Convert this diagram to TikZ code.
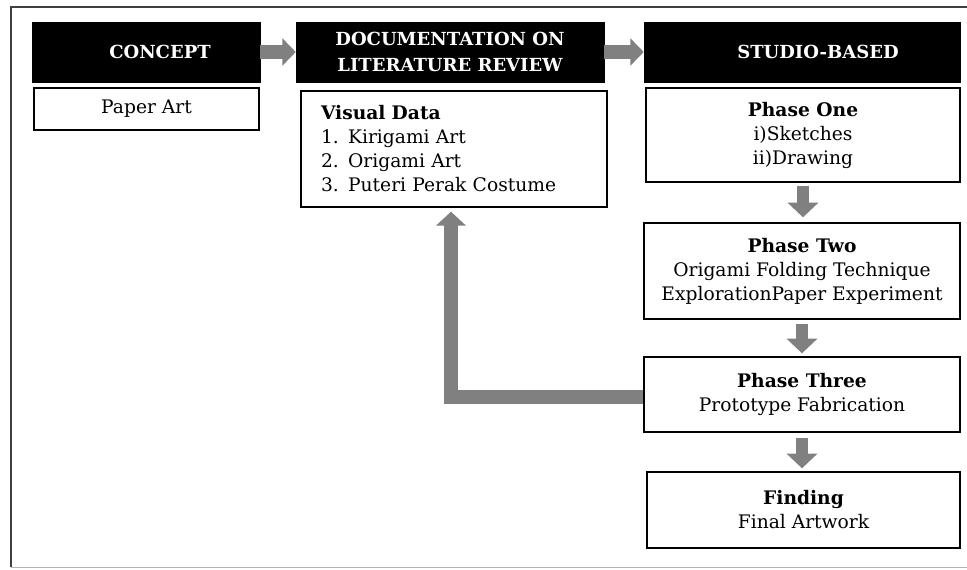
\documentclass[tikz,border=0pt]{standalone}
\usepackage{fontspec}
\setmainfont{DejaVu Serif}
\usetikzlibrary{arrows.meta}

\begin{document}
\begin{tikzpicture}[x=0.75pt,y=0.75pt,yscale=-1,xscale=1,
  headbox/.style={draw=black,fill=black,text=white,align=center,inner sep=0.75pt,font=\fontsize{13.5}{20}\selectfont\bfseries},
  textbox/.style={draw=black,line width=1pt,fill=white,align=center,inner sep=0.75pt,font=\fontsize{14}{18}\selectfont},
  flowarrow/.style={draw={rgb, 255:red, 128; green, 128; blue, 128},line width=10.5pt,-{Triangle[length=10pt,width=20pt]}},
  downarrow/.style={draw={rgb, 255:red, 128; green, 128; blue, 128},line width=9pt,-{Triangle[length=11pt,width=22.5pt]}},
  backarrow/.style={draw={rgb, 255:red, 128; green, 128; blue, 128},line width=10.5pt,line join=miter,-{Triangle[length=10.5pt,width=22pt]}}]
\useasboundingbox (0,0) rectangle (967,569);

%Shape: Frame
\draw [color={rgb, 255:red, 64; green, 64; blue, 64 }, line width=2pt] (990,7) -- (11,7) -- (11,567) ;
\draw [color={rgb, 255:red, 180; green, 180; blue, 180 }, line width=1pt] (11,567.5) -- (990,567.5) ;

% Text Node
\node [headbox, minimum width=171pt, minimum height=45pt] (concept) at (146,52) {\hspace*{21pt}CONCEPT};
% Text Node
\node [textbox, minimum width=168.75pt, minimum height=31.5pt] (paperart) at (146.5,109) {Paper Art};
% Text Node
\node [headbox, minimum width=231pt, minimum height=45pt] (litreview) at (450,52) {DOCUMENTATION ON\\LITERATURE REVIEW};
% Text Node
\node [textbox, align=left, text width=199.5pt, inner xsep=15pt, minimum height=87pt] (visdata) at (454,149) {\textbf{Visual Data}\\1. Kirigami Art\\2. Origami Art\\3. Puteri Perak Costume};
% Text Node
\node [headbox, minimum width=237pt, minimum height=45pt] (studio) at (802,52) {\hspace*{24pt}STUDIO-BASED};
% Text Node
\node [textbox, minimum width=235.5pt, minimum height=70.5pt] (phaseone) at (803,135) {\textbf{Phase One}\\i)Sketches\\ii)Drawing};
% Text Node
\node [textbox, minimum width=237pt, minimum height=72pt] (phasetwo) at (802,271) {\textbf{Phase Two}\\Origami Folding Technique\\ExplorationPaper Experiment};
% Text Node
\node [textbox, minimum width=237pt, minimum height=56.25pt] (phasethree) at (802,394.5) {\textbf{Phase Three}\\Prototype Fabrication};
% Text Node
\node [textbox, minimum width=234.75pt, minimum height=57pt] (finding) at (803.5,510) {\textbf{Finding}\\Final Artwork};

%Straight Lines
\draw [flowarrow] (concept) -- (litreview) ;
%Straight Lines
\draw [flowarrow] (litreview) -- (studio) ;
%Straight Lines
\draw [downarrow, shorten <=2.25pt, shorten >=3.75pt] (phaseone.south) -- (phaseone.south |- phasetwo.north) ;
%Straight Lines
\draw [downarrow, shorten <=3pt, shorten >=2.25pt] (phasetwo.south) -- (phasetwo.south |- phasethree.north) ;
%Straight Lines
\draw [downarrow, shorten <=3.75pt, shorten >=2.25pt] (phasethree.south) -- (phasethree.south |- finding.north) ;
%Straight Lines
\draw [backarrow, shorten >=3pt] ([yshift=1.5pt]phasethree.west) -| ([xshift=-2.25pt]visdata.south) ;

\end{tikzpicture}
\end{document}
